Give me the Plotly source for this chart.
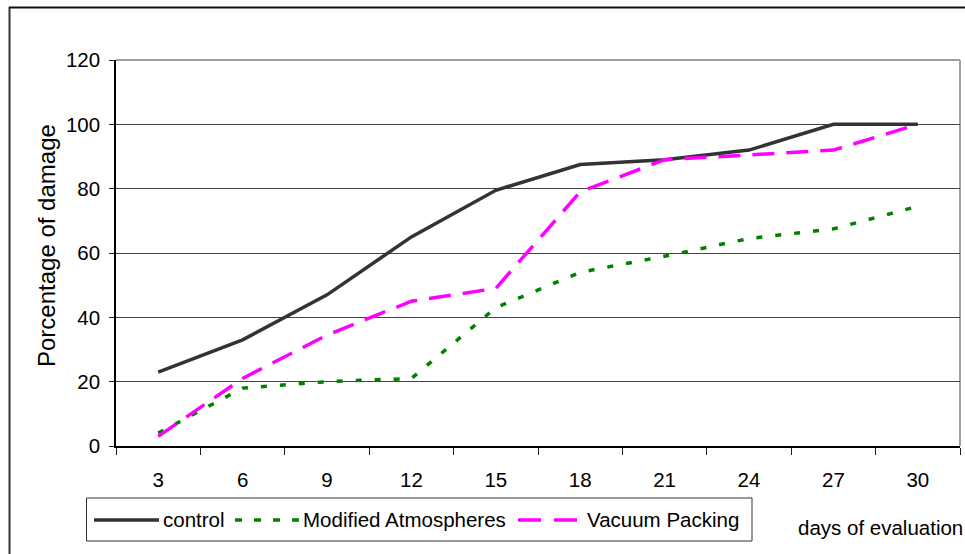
import plotly.graph_objects as go

# Days of evaluation and percentage of damage per treatment
days = ["3", "6", "9", "12", "15", "18", "21", "24", "27", "30"]
control = [23, 33, 47, 65, 79.5, 87.5, 89, 92, 100, 100]
modified_atm = [4, 18, 20, 21, 43, 54, 59, 64.5, 67.5, 74.5]
vacuum = [3, 21, 34.5, 45, 49, 79, 89, 90.5, 92, 100]
y_ticks = [0, 20, 40, 60, 80, 100, 120]

W, H = 965, 554
L, R, T, B = 116, 5, 60, 108
PW, PH = W - L - R, H - T - B
FONT = "Liberation Sans, Arial, sans-serif"
FS = 20.5


def px(x):
    return (x - L) / PW


def py(y):
    return (H - B - y) / PH


fig = go.Figure()
fig.add_trace(go.Scatter(x=days, y=control, mode="lines", name="control",
                         line=dict(color="#333333", width=3.5)))
fig.add_trace(go.Scatter(x=days, y=modified_atm, mode="lines", name="Modified Atmospheres",
                         line=dict(color="#008000", width=3.5, dash="6px,13px")))
fig.add_trace(go.Scatter(x=days, y=vacuum, mode="lines", name="Vacuum Packing",
                         line=dict(color="#ff00ff", width=3.5, dash="22px,12px")))

shapes = [
    # top and right borders of the plot area
    dict(type="line", xref="paper", yref="paper", x0=0, x1=1, y0=1, y1=1,
         line=dict(color="#a0a0a0", width=2), layer="below"),
    dict(type="line", xref="paper", yref="paper", x0=1, x1=1, y0=0, y1=1,
         line=dict(color="#a0a0a0", width=2), layer="below"),
    # outer chart frame
    dict(type="line", xref="paper", yref="paper", x0=px(9.5), x1=px(9.5), y0=py(7), y1=py(560),
         line=dict(color="#333333", width=2)),
    dict(type="line", xref="paper", yref="paper", x0=px(9), x1=px(970), y0=py(7.5), y1=py(7.5),
         line=dict(color="#111111", width=2)),
    # legend box
    dict(type="rect", xref="paper", yref="paper", x0=px(86.5), x1=px(752), y0=py(498), y1=py(541),
         line=dict(color="#333333", width=1), fillcolor="white"),
    # legend samples
    dict(type="line", xref="paper", yref="paper", x0=px(94), x1=px(159), y0=py(520), y1=py(520),
         line=dict(color="#333333", width=3.5)),
    dict(type="line", xref="paper", yref="paper", x0=px(235), x1=px(300), y0=py(520), y1=py(520),
         line=dict(color="#008000", width=3.5, dash="7px,12px")),
    dict(type="line", xref="paper", yref="paper", x0=px(518), x1=px(577), y0=py(520), y1=py(520),
         line=dict(color="#ff00ff", width=3.5, dash="23px,13px")),
]

annotations = [
    dict(text="Porcentage of damage", xref="paper", yref="paper", x=px(46), y=py(246),
         textangle=-90, showarrow=False, xanchor="center", yanchor="middle",
         font=dict(size=24, family=FONT, color="black")),
    dict(text="days of evaluation", xref="paper", yref="paper", x=px(796), y=py(527),
         showarrow=False, xanchor="left", yanchor="middle",
         font=dict(size=FS, family=FONT, color="black")),
    dict(text="control", xref="paper", yref="paper", x=px(161), y=py(519),
         showarrow=False, xanchor="left", yanchor="middle",
         font=dict(size=FS, family=FONT, color="black")),
    dict(text="Modified Atmospheres", xref="paper", yref="paper", x=px(301), y=py(519),
         showarrow=False, xanchor="left", yanchor="middle",
         font=dict(size=FS, family=FONT, color="black")),
    dict(text="Vacuum Packing", xref="paper", yref="paper", x=px(585), y=py(519),
         showarrow=False, xanchor="left", yanchor="middle",
         font=dict(size=FS, family=FONT, color="black")),
]

fig.update_layout(
    width=W, height=H,
    margin=dict(l=L, r=R, t=T, b=B, pad=0),
    paper_bgcolor="white", plot_bgcolor="white",
    showlegend=False,
    font=dict(family=FONT, size=FS, color="black"),
    shapes=shapes,
    annotations=annotations,
    xaxis=dict(type="category", range=[-0.5, 9.5], tickson="boundaries",
               ticks="outside", ticklen=7, tickcolor="#222222",
               showline=True, linecolor="black", linewidth=1.5,
               showgrid=False, ticklabelstandoff=15, tickfont=dict(size=FS, family=FONT)),
    yaxis=dict(range=[0, 120], tickvals=y_ticks, ticks="outside", ticklen=5,
               tickcolor="#222222", showline=True, linecolor="black", linewidth=1.5,
               showgrid=True, gridcolor="#444444", gridwidth=1, zeroline=False,
               ticklabelstandoff=5, tickfont=dict(size=FS, family=FONT)),
)

fig.write_html("out.html")
